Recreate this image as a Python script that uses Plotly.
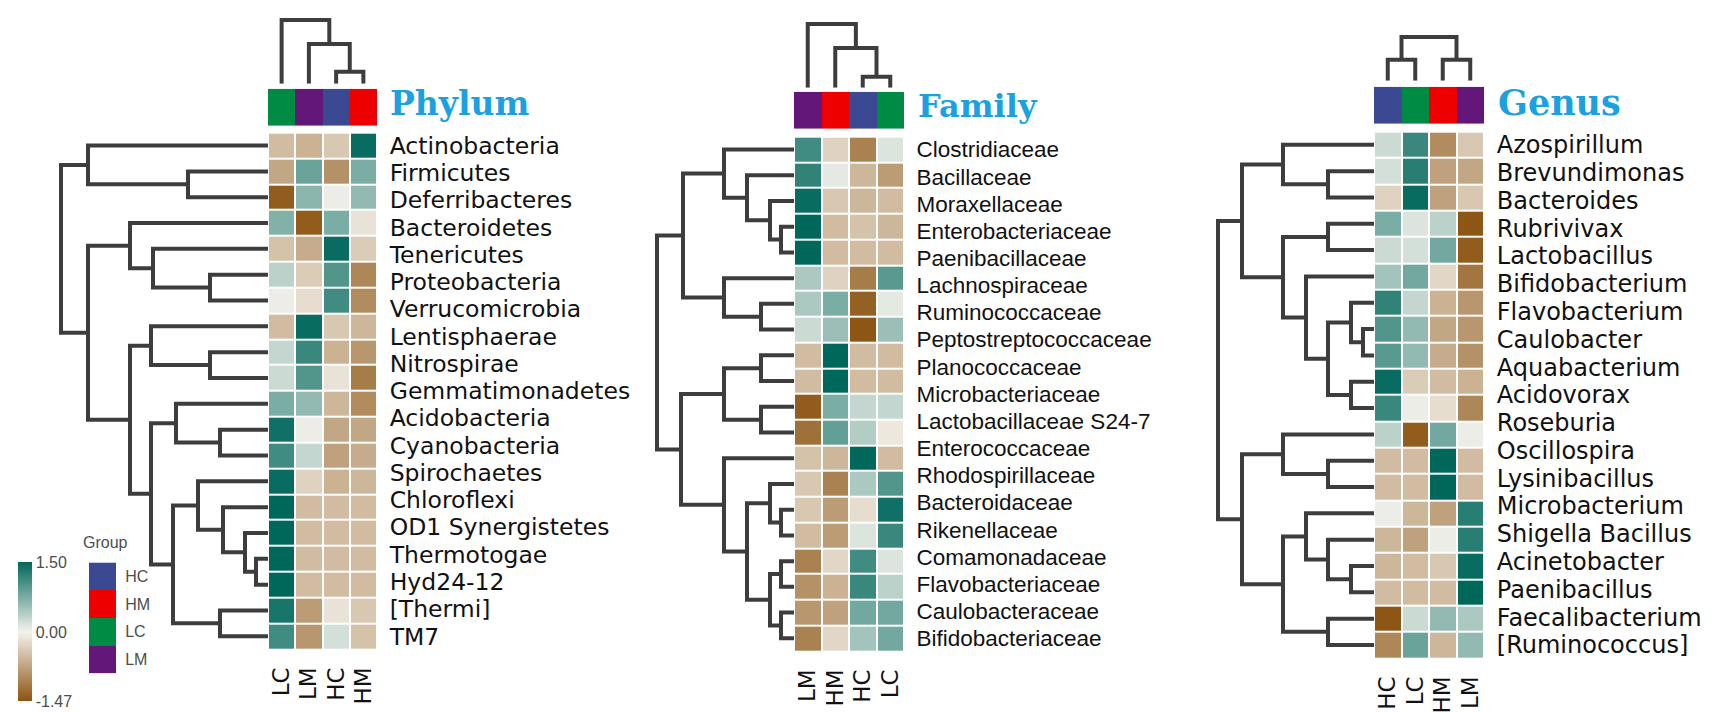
import plotly.graph_objects as go

W, H = 1726, 712

# ---------------- data ----------------
group_names = ["HC", "HM", "LC", "LM"]
group_colors = ["#3B4992", "#EE0000", "#008B45", "#631879"]

phylum_cols = ["LC", "LM", "HC", "HM"]
phylum_labels = ["Actinobacteria", "Firmicutes", "Deferribacteres", "Bacteroidetes", "Tenericutes",
                 "Proteobacteria", "Verrucomicrobia", "Lentisphaerae", "Nitrospirae", "Gemmatimonadetes",
                 "Acidobacteria", "Cyanobacteria", "Spirochaetes", "Chloroflexi", "OD1 Synergistetes",
                 "Thermotogae", "Hyd24-12", "[Thermi]", "TM7"]
phylum_values = [
    [-0.5, -0.6, -0.4, 1.45], [-0.7, 0.85, -0.9, 0.75], [-1.4, 0.65, 0.05, 0.6], [0.7, -1.4, 0.75, -0.15],
    [-0.45, -0.65, 1.45, -0.35], [0.35, -0.35, 1.0, -1.0], [0.05, -0.2, 1.1, -0.95], [-0.5, 1.45, -0.4, -0.55],
    [0.3, 1.15, -0.6, -0.85], [0.25, 1.0, -0.15, -1.1], [0.75, 0.6, -0.55, -0.95], [1.4, 0.05, -0.7, -0.7],
    [1.1, 0.3, -0.75, -0.65], [1.45, -0.3, -0.6, -0.55], [1.5, -0.5, -0.5, -0.5], [1.5, -0.5, -0.5, -0.5],
    [1.5, -0.5, -0.5, -0.5], [1.5, -0.5, -0.5, -0.5], [1.35, -0.8, -0.15, -0.4], [1.1, -0.85, 0.2, -0.45]]
phylum_row_links = [(1, 2, 80), (0, 20, 180), (5, 6, 58), (4, 22, 115), (3, 23, 138), (8, 9, 58),
                    (7, 25, 117), (11, 12, 48), (10, 27, 92), (16, 17, 12), (15, 29, 23), (14, 30, 45),
                    (13, 31, 70), (18, 19, 48), (32, 33, 95), (28, 34, 117), (26, 35, 138), (24, 36, 180),
                    (21, 37, 207)]
phylum_col_links = [(2, 3, 12), (1, 4, 40), (0, 5, 64)]

family_cols = ["LM", "HM", "HC", "LC"]
family_labels = ["Clostridiaceae", "Bacillaceae", "Moraxellaceae", "Enterobacteriaceae", "Paenibacillaceae",
                 "Lachnospiraceae", "Ruminococcaceae", "Peptostreptococcaceae", "Planococcaceae",
                 "Microbacteriaceae", "Lactobacillaceae S24-7", "Enterococcaceae", "Rhodospirillaceae",
                 "Bacteroidaceae", "Rikenellaceae", "Comamonadaceae", "Flavobacteriaceae",
                 "Caulobacteraceae", "Bifidobacteriaceae"]
family_values = [
    [1.1, -0.3, -1.05, 0.15], [1.2, 0.1, -0.55, -0.8], [1.45, -0.4, -0.55, -0.5], [1.5, -0.5, -0.45, -0.55],
    [1.5, -0.5, -0.5, -0.5], [0.45, -0.3, -1.1, 0.95], [0.45, 0.75, -1.35, 0.1], [0.25, 0.55, -1.45, 0.55],
    [-0.5, 1.5, -0.5, -0.5], [-0.5, 1.5, -0.5, -0.5], [-1.4, 0.75, 0.3, 0.3], [-1.2, 0.9, 0.4, -0.1],
    [-0.45, -0.55, 1.5, -0.5], [-0.4, -1.05, 0.45, 1.0], [-0.4, -0.8, -0.2, 1.4], [-0.5, -0.8, 0.15, 1.15],
    [-1.05, -0.25, 1.1, 0.15], [-0.9, -0.6, 1.15, 0.35], [-0.85, -0.75, 0.8, 0.8], [-1.05, -0.25, 0.5, 0.8]]
family_row_links = [(3, 4, 13), (2, 20, 24), (1, 21, 47), (0, 22, 70), (6, 7, 33), (5, 24, 70),
                    (23, 25, 111), (8, 9, 33), (10, 11, 33), (27, 28, 70), (14, 15, 13), (13, 30, 24),
                    (16, 17, 13), (18, 19, 13), (32, 33, 24), (31, 34, 47), (12, 35, 70), (29, 36, 113),
                    (26, 37, 137)]
family_col_links = [(2, 3, 11), (1, 4, 40), (0, 5, 64)]

genus_cols = ["HC", "LC", "HM", "LM"]
genus_labels = ["Azospirillum", "Brevundimonas", "Bacteroides", "Rubrivivax", "Lactobacillus",
                "Bifidobacterium", "Flavobacterium", "Caulobacter", "Aquabacterium", "Acidovorax",
                "Roseburia", "Oscillospira", "Lysinibacillus", "Microbacterium", "Shigella Bacillus",
                "Acinetobacter", "Paenibacillus", "Faecalibacterium", "[Ruminococcus]"]
genus_values = [
    [0.25, 1.15, -0.95, -0.4], [0.2, 1.25, -0.75, -0.7], [-0.3, 1.45, -0.75, -0.4], [0.75, 0.15, 0.35, -1.45],
    [0.25, 0.2, 0.8, -1.4], [0.5, 0.8, -0.25, -1.15], [1.2, 0.3, -0.6, -0.85], [1.0, 0.6, -0.7, -0.85],
    [0.95, 0.6, -0.65, -0.9], [1.45, -0.35, -0.5, -0.6], [1.15, 0.05, -0.2, -1.0], [0.35, -1.4, 0.8, 0.05],
    [-0.5, -0.5, 1.5, -0.5], [-0.5, -0.5, 1.5, -0.5], [0.05, -0.55, -0.75, 1.25], [-0.55, -0.75, 0.05, 1.25],
    [-0.55, -0.5, -0.4, 1.45], [-0.5, -0.5, -0.5, 1.5], [-1.45, 0.25, 0.6, 0.45], [-1.0, 0.85, -0.55, 0.6]]
genus_row_links = [(1, 2, 46), (0, 20, 91), (3, 4, 46), (7, 8, 11), (6, 23, 23), (9, 10, 23),
                   (24, 25, 46), (5, 26, 68), (22, 27, 91), (21, 28, 132), (12, 13, 46), (11, 30, 91),
                   (16, 17, 23), (15, 32, 46), (14, 33, 68), (18, 19, 46), (34, 35, 91), (31, 36, 132),
                   (29, 37, 156)]
genus_col_links = [(0, 1, 21), (2, 3, 21), (4, 5, 44)]

z_min, z_max = -1.47, 1.50
cbar_ticks = [1.50, 0.00, -1.47]
cbar_ticktext = ["1.50", "0.00", "-1.47"]

# ---------------- styling / layout ----------------
BROWN, MID, TEAL = "#8C5412", "#F4F2EC", "#00675B"
zero_frac = (0 - z_min) / (z_max - z_min)
heat_scale = [[0, BROWN], [zero_frac, MID], [1, TEAL]]
group_scale = [[i / 3, c] for i, c in enumerate(group_colors)]
LINE = "#3D3D3D"
TITLE_BLUE = "#1BA1E2"

panels = [
    dict(cols=phylum_cols, labels=phylum_labels, values=phylum_values, rlinks=phylum_row_links,
         clinks=phylum_col_links, hx=(260, 369), hy=(124, 642), by=(80, 117), cleaf=75, croot=11,
         rroot=53, title="Phylum", tx=380, ty=95, tsize=33, lfont=("DejaVu Sans", 23.5)),
    dict(cols=family_cols, labels=family_labels, values=family_values, rlinks=family_row_links,
         clinks=family_col_links, hx=(786, 896), hy=(128, 644), by=(83, 120), cleaf=79, croot=15,
         rroot=649, title="Family", tx=908, ty=97, tsize=32, lfont=("Liberation Sans", 22.5)),
    dict(cols=genus_cols, labels=genus_labels, values=genus_values, rlinks=genus_row_links,
         clinks=genus_col_links, hx=(1366, 1476), hy=(123, 651), by=(78, 115), cleaf=72, croot=28,
         rroot=1210, title="Genus", tx=1488, ty=94, tsize=35, lfont=("DejaVu Sans", 24)),
]

fig = go.Figure()
counter = [0]


def new_axes(xpx, ypx, xextra=None, yextra=None):
    counter[0] += 1
    i = counter[0]
    sfx = "" if i == 1 else str(i)
    base = dict(showgrid=False, zeroline=False, showline=False, showticklabels=False, ticks="",
                fixedrange=True)
    xa = dict(base, domain=[xpx[0] / W, xpx[1] / W], anchor="y" + sfx)
    ya = dict(base, domain=[1 - ypx[1] / H, 1 - ypx[0] / H], anchor="x" + sfx)
    if xextra:
        xa.update(xextra)
    if yextra:
        ya.update(yextra)
    fig.update_layout(**{"xaxis" + sfx: xa, "yaxis" + sfx: ya})
    return "x" + sfx, "y" + sfx


def dendro(links, n):
    pos = {i: float(i) for i in range(n)}
    hgt = {i: 0.0 for i in range(n)}
    p, h = [], []
    for k, (a, b, ht) in enumerate(links):
        p += [pos[a], pos[a], pos[b], pos[b], None]
        h += [hgt[a], ht, ht, hgt[b], None]
        pos[n + k] = (pos[a] + pos[b]) / 2
        hgt[n + k] = ht
    return p, h


for k, P in enumerate(panels):
    nrow = len(P["values"])
    ncol = len(P["cols"])
    nlab = len(P["labels"])
    fam, fsize = P["lfont"]
    # heatmap
    lab_pos = [i * (nrow - 1) / (nlab - 1) for i in range(nlab)]
    xr, yr = new_axes(P["hx"], P["hy"],
                      xextra=dict(range=[-0.5, ncol - 0.5], showticklabels=True, tickvals=list(range(ncol)),
                                  ticktext=P["cols"], tickangle=-90, ticks="outside", ticklen=8,
                                  tickcolor="rgba(0,0,0,0)", side="bottom",
                                  tickfont=dict(family="DejaVu Sans", size=23, color="#111111")),
                      yextra=dict(range=[nrow - 0.5, -0.5], showticklabels=True, side="right",
                                  tickvals=lab_pos, ticktext=P["labels"], ticks="outside", ticklen=7,
                                  tickcolor="rgba(0,0,0,0)",
                                  tickfont=dict(family=fam, size=fsize, color="#111111")))
    hm = go.Heatmap(z=P["values"], x=list(range(ncol)), y=list(range(nrow)), xaxis=xr, yaxis=yr,
                    colorscale=heat_scale, zmin=z_min, zmax=z_max, xgap=2, ygap=2,
                    showscale=(k == 0), hoverinfo="skip")
    if k == 0:
        hm.colorbar = dict(x=10 / W, xanchor="left", xpad=0, ypad=0, y=1 - 624.5 / H, yanchor="middle",
                           len=139, lenmode="pixels", thickness=14, thicknessmode="pixels",
                           outlinewidth=0, tickvals=cbar_ticks, ticktext=cbar_ticktext, ticks="",
                           tickfont=dict(family="Liberation Sans", size=16, color="#4D4D4D"))
    fig.add_trace(hm)

    # group bar
    gidx = [group_names.index(c) for c in P["cols"]]
    xr, yr = new_axes(P["hx"], P["by"], xextra=dict(range=[-0.5, ncol - 0.5]),
                      yextra=dict(range=[-0.5, 0.5]))
    fig.add_trace(go.Heatmap(z=[gidx], x=list(range(ncol)), y=[0], xaxis=xr, yaxis=yr,
                             colorscale=group_scale, zmin=0, zmax=3, showscale=False, hoverinfo="skip"))

    # column dendrogram
    croot_h = max(l[2] for l in P["clinks"])
    scale = (P["cleaf"] - P["croot"]) / croot_h
    top_px = P["cleaf"] - croot_h * 1.12 * scale
    p, h = dendro(P["clinks"], ncol)
    xr, yr = new_axes(P["hx"], (top_px, P["cleaf"]), xextra=dict(range=[-0.5, ncol - 0.5]),
                      yextra=dict(range=[0, croot_h * 1.12]))
    fig.add_trace(go.Scatter(x=p, y=h, xaxis=xr, yaxis=yr, mode="lines", hoverinfo="skip",
                             line=dict(color=LINE, width=4), showlegend=False))

    # row dendrogram
    rroot_h = max(l[2] for l in P["rlinks"])
    leaf_px = P["hx"][0]
    span = (leaf_px - P["rroot"]) * 1.06
    p, h = dendro(P["rlinks"], nrow)
    xr, yr = new_axes((leaf_px - span, leaf_px), P["hy"], xextra=dict(range=[rroot_h * 1.06, 0]),
                      yextra=dict(range=[nrow - 0.5, -0.5]))
    fig.add_trace(go.Scatter(x=h, y=p, xaxis=xr, yaxis=yr, mode="lines", hoverinfo="skip",
                             line=dict(color=LINE, width=4), showlegend=False))

    # title
    fig.add_annotation(text="<b>%s</b>" % P["title"], x=P["tx"] / W, y=1 - P["ty"] / H, xref="paper",
                       yref="paper", xanchor="left", yanchor="middle", showarrow=False,
                       font=dict(family="DejaVu Serif", size=P["tsize"], color=TITLE_BLUE))

# group legend boxes
xr, yr = new_axes((81, 108), (555, 666), xextra=dict(range=[-0.5, 0.5]),
                  yextra=dict(range=[3.5, -0.5], showticklabels=True, side="right", tickvals=[0, 1, 2, 3],
                              ticktext=group_names, ticks="outside", ticklen=5, tickcolor="rgba(0,0,0,0)",
                              tickfont=dict(family="Liberation Sans", size=16, color="#4D4D4D")))
fig.add_trace(go.Heatmap(z=[[0], [1], [2], [3]], x=[0], y=[0, 1, 2, 3], xaxis=xr, yaxis=yr,
                         colorscale=group_scale, zmin=0, zmax=3, showscale=False, hoverinfo="skip"))
fig.add_annotation(text="Group", x=97 / W, y=1 - 535 / H, xref="paper", yref="paper", showarrow=False,
                   xanchor="center", yanchor="middle",
                   font=dict(family="Liberation Sans", size=16, color="#4D4D4D"))

fig.update_layout(width=W, height=H, margin=dict(l=0, r=0, t=0, b=0), paper_bgcolor="white",
                  plot_bgcolor="white", showlegend=False)

fig.write_html("out.html")
